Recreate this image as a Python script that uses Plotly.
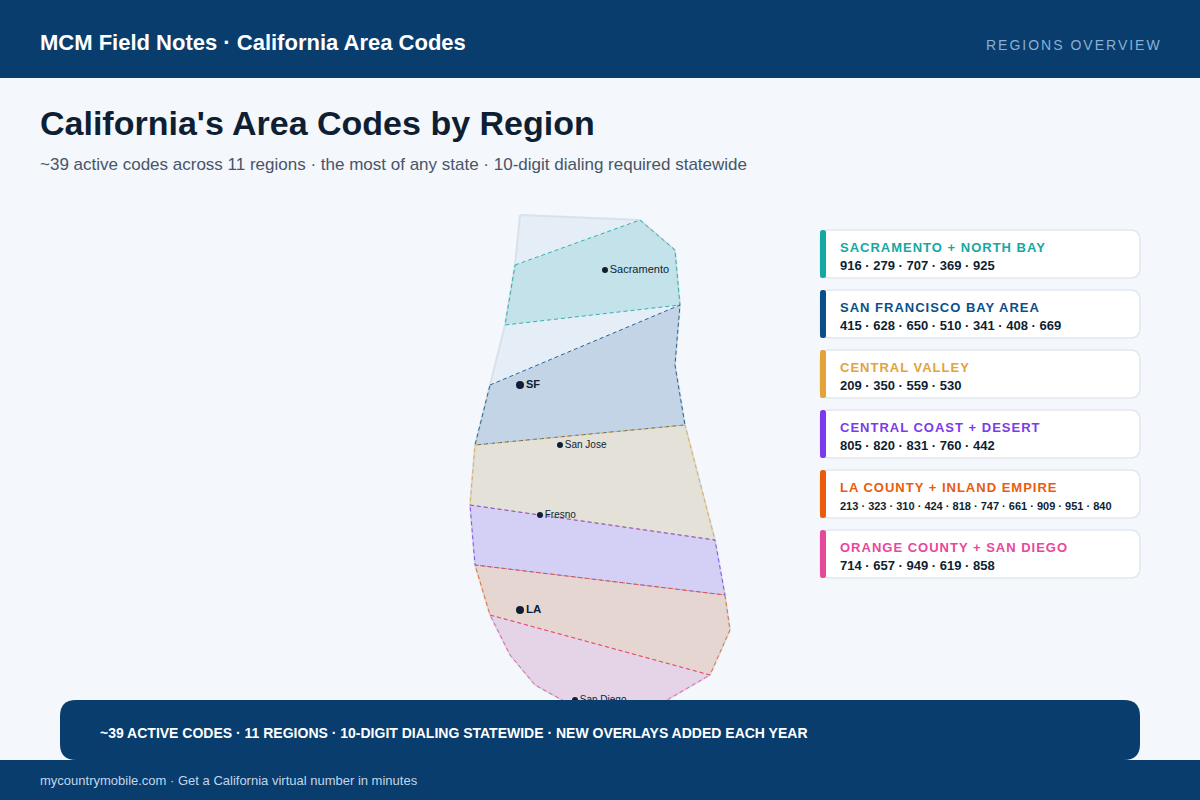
import plotly.graph_objects as go

# ---- data ----
regions = ["Sacramento + North Bay", "San Francisco Bay Area", "Central Valley",
           "Central Coast + Desert", "LA County + Inland Empire", "Orange County + San Diego"]
region_colors = ["#14a8a4", "#0b4f8a", "#e3a338", "#7c3aed", "#ea5c0c", "#e8489a"]
region_codes = ["916 · 279 · 707 · 369 · 925",
                "415 · 628 · 650 · 510 · 341 · 408 · 669",
                "209 · 350 · 559 · 530",
                "805 · 820 · 831 · 760 · 442",
                "213 · 323 · 310 · 424 · 818 · 747 · 661 · 909 · 951 · 840",
                "714 · 657 · 949 · 619 · 858"]
region_titles = [r.upper() for r in regions]

state_x = [520, 640, 675, 680, 675, 685, 715, 725, 730, 710, 650, 580, 535, 510, 490, 475, 470, 475, 490, 505, 515, 520]
state_y = [215, 220, 250, 305, 365, 425, 540, 595, 630, 675, 710, 710, 685, 655, 615, 565, 505, 445, 385, 325, 265, 215]

sac_x = [515, 640, 675, 680, 505, 515]
sac_y = [265, 220, 250, 305, 325, 265]
sf_x = [490, 680, 675, 685, 475, 490]
sf_y = [385, 305, 365, 425, 445, 385]
cv_x = [475, 685, 715, 470, 475]
cv_y = [445, 425, 540, 505, 445]
cc_x = [470, 715, 725, 475, 470]
cc_y = [505, 540, 595, 565, 505]
la_x = [475, 725, 730, 710, 490, 475]
la_y = [565, 595, 630, 675, 615, 565]
oc_x = [490, 710, 650, 580, 535, 510, 490]
oc_y = [615, 675, 710, 710, 685, 655, 615]
region_xs = [sac_x, sf_x, cv_x, cc_x, la_x, oc_x]
region_ys = [sac_y, sf_y, cv_y, cc_y, la_y, oc_y]

cities = ["Sacramento", "SF", "San Jose", "Fresno", "LA", "San Diego"]
city_x = [605, 520, 560, 540, 520, 575]
city_y = [270, 385, 445, 515, 610, 700]
city_major = [False, True, False, False, True, False]
city_font = [11, 11, 10, 10, 11.5, 10]

NAVY = "#083d6e"
INK = "#0f1f33"
FONT = "Liberation Sans, Arial, sans-serif"


def rrect(x0, y0, x1, y1, r):
    return (f"M{x0+r},{y0} L{x1-r},{y0} Q{x1},{y0} {x1},{y0+r} L{x1},{y1-r} Q{x1},{y1} {x1-r},{y1} "
            f"L{x0+r},{y1} Q{x0},{y1} {x0},{y1-r} L{x0},{y0+r} Q{x0},{y0} {x0+r},{y0} Z")


fig = go.Figure()

fig.add_trace(go.Scatter(x=state_x, y=state_y, mode="lines", fill="toself",
                         fillcolor="#e5eef7", line=dict(color="#d9e1ea", width=2),
                         hoverinfo="skip", showlegend=False))
for name, xs, ys, col in zip(regions, region_xs, region_ys, region_colors):
    r, g, b = int(col[1:3], 16), int(col[3:5], 16), int(col[5:7], 16)
    fig.add_trace(go.Scatter(x=xs, y=ys, mode="lines", fill="toself", name=name,
                             fillcolor=f"rgba({r},{g},{b},0.16)",
                             line=dict(color=f"rgba({r},{g},{b},0.85)", width=1, dash="4px,3px"),
                             hoverinfo="skip", showlegend=False))

for name, x, y, major, fs in zip(cities, city_x, city_y, city_major, city_font):
    fig.add_trace(go.Scatter(x=[x], y=[y], mode="markers+text", text=[f"<b>{name}</b>" if major else name],
                             textposition="middle right",
                             textfont=dict(family=FONT, size=fs, color=INK),
                             marker=dict(color=INK, size=8 if major else 6),
                             hoverinfo="skip", showlegend=False))

shapes = [
    dict(type="rect", x0=0, x1=1200, y0=0, y1=78, fillcolor=NAVY, line_width=0, layer="above"),
    dict(type="path", path=rrect(60, 700, 1140, 760, 16), fillcolor=NAVY, line_width=0, layer="above"),
    dict(type="rect", x0=0, x1=1200, y0=760, y1=800, fillcolor=NAVY, line_width=0, layer="above"),
]
annotations = []


def text(x, y, s, size, color, bold=False, anchor="left"):
    annotations.append(dict(x=x, y=y, xref="x", yref="y", text=f"<b>{s}</b>" if bold else s,
                            showarrow=False, xanchor=anchor, yanchor="middle", align=anchor,
                            font=dict(family=FONT, size=size, color=color), borderpad=0, borderwidth=0))


for i, (title, codes, col) in enumerate(zip(region_titles, region_codes, region_colors)):
    top = 230 + 60 * i
    shapes.append(dict(type="path", path=rrect(820, top, 1140, top + 48, 10), fillcolor="#ffffff",
                       line=dict(color="#e2e8f0", width=1.5), layer="above"))
    shapes.append(dict(type="path", path=rrect(820, top, 826, top + 48, 2.5), fillcolor=col, line_width=0, layer="above"))
    text(840, top + 17.5, title, 13, col, True)
    text(840, top + 35.5, codes, 11 if len(codes) > 45 else 13, INK, True)

text(40, 42.5, "MCM Field Notes · California Area Codes", 22, "#ffffff", True)
text(1162, 44.5, "REGIONS OVERVIEW", 14, "#8aafd4", False, "right")
text(40, 123, "California's Area Codes by Region", 34, INK, True)
text(40, 164.5, "~39 active codes across 11 regions · the most of any state · 10-digit dialing required statewide", 17, "#475569")
text(100, 733, "~39 ACTIVE CODES · 11 REGIONS · 10-DIGIT DIALING STATEWIDE · NEW OVERLAYS ADDED EACH YEAR", 14, "#ffffff", True)
text(40, 780.5, "mycountrymobile.com · Get a California virtual number in minutes", 13, "#c3d5e8")

fig.update_layout(
    width=1200, height=800, autosize=False, margin=dict(l=0, r=0, t=0, b=0),
    paper_bgcolor="#f4f7fb", plot_bgcolor="#f4f7fb", showlegend=False,
    xaxis=dict(range=[0, 1200], visible=False, fixedrange=True),
    yaxis=dict(range=[800, 0], visible=False, fixedrange=True),
    shapes=shapes, annotations=annotations,
)

post = """
var st=document.createElement('style');
st.textContent='html,body{margin:0;padding:0;overflow:hidden}';document.head.appendChild(st);
document.querySelectorAll('.annotation-text').forEach(function(t){
  var s=t.textContent, ls=null;
  if(s==='REGIONS OVERVIEW') ls='2px';
  else if(/^[A-Z +]+$/.test(s)) ls='1px';
  if(ls) t.style.letterSpacing=ls;
});
"""
fig.write_html("out.html", config={"displayModeBar": False, "responsive": False}, post_script=post)
